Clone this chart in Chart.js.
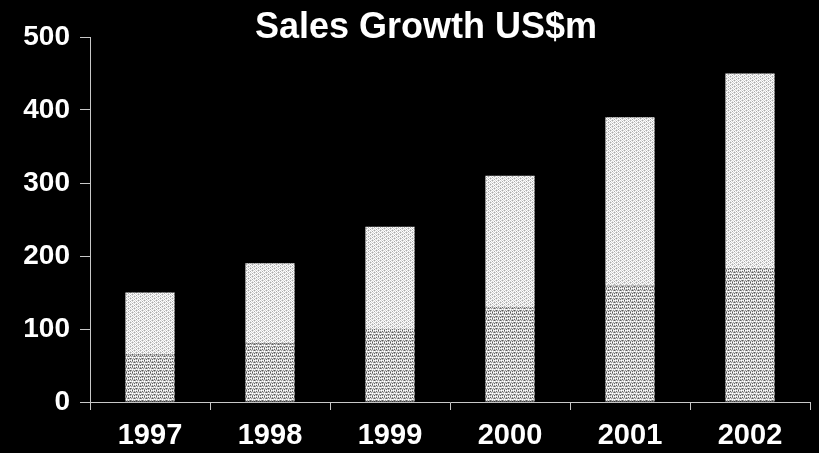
<!DOCTYPE html>
<html><head><meta charset="utf-8">
<script src="https://cdn.jsdelivr.net/npm/chart.js@4/dist/chart.umd.min.js"></script>
<style>html,body{margin:0;padding:0;background:#000;}#wrap{width:819px;height:453px;}</style>
</head><body><div id="wrap"><canvas id="c" width="819" height="453"></canvas></div>
<script>
const categories = ["1997","1998","1999","2000","2001","2002"];
const lowerValues = [65, 80, 100, 130, 160, 185];
const upperValues = [85, 110, 140, 180, 230, 265];
const yTicks = [0,100,200,300,400,500];

function makePattern(kind){
  const s = 6, cv = document.createElement('canvas'); cv.width = s; cv.height = s;
  const x = cv.getContext('2d'); const img = x.createImageData(s,s);
  for(let j=0;j<s;j++)for(let i=0;i<s;i++){
    let v;
    if(kind==='light'){ v = ((i+j)%2===0)?255:215; if((i+2*j)%6===0) v=170; }
    else { v = ((i+j)%2===0)?225:150; if((i+j*2)%6===0) v=95; if((i*3+j)%6===3) v=255; }
    const k=(j*s+i)*4; img.data[k]=v;img.data[k+1]=v;img.data[k+2]=v;img.data[k+3]=255;
  }
  x.putImageData(img,0,0);
  return document.getElementById('c').getContext('2d').createPattern(cv,'repeat');
}

const titlePlugin = {id:'ttl', afterDraw(ch){const c=ch.ctx;c.save();c.fillStyle='#fff';c.font='bold 36px "Liberation Sans", Arial';c.textAlign='center';c.textBaseline='alphabetic';c.fillText('Sales Growth US$m',(ch.chartArea.left+ch.chartArea.right)/2-24,38);c.restore();}};

new Chart(document.getElementById('c'),{
  type:'bar',
  data:{labels:categories,datasets:[
    {label:'Lower',data:lowerValues,backgroundColor:makePattern('dark'),borderWidth:0,categoryPercentage:1,barPercentage:0.41},
    {label:'Upper',data:upperValues,backgroundColor:makePattern('light'),borderWidth:0,categoryPercentage:1,barPercentage:0.41}
  ]},
  options:{responsive:false,animation:false,
    layout:{padding:{left:0,right:9,top:37,bottom:0}},
    plugins:{legend:{display:false},tooltip:{enabled:false},title:{display:false}},
    scales:{
      x:{stacked:true,offset:true,afterFit(s){s.height=51;},
        grid:{display:true,drawOnChartArea:false,offset:true,color:'#c8c8c8',tickLength:8,lineWidth:1},
        border:{display:true,color:'#c8c8c8',width:1},
        ticks:{color:'#fff',font:{family:'"Liberation Sans", Arial',size:29,weight:'bold'},padding:9}},
      y:{stacked:true,min:0,max:500,afterFit(s){s.width=90;},afterBuildTicks(a){a.ticks=yTicks.map(v=>({value:v}));},
        grid:{display:true,drawOnChartArea:false,color:'#c8c8c8',tickLength:10},
        border:{display:true,color:'#c8c8c8',width:1},
        ticks:{color:'#fff',font:{family:'"Liberation Sans", Arial',size:28,weight:'bold'},padding:10}}
    }},
  plugins:[titlePlugin]
});
</script></body></html>
